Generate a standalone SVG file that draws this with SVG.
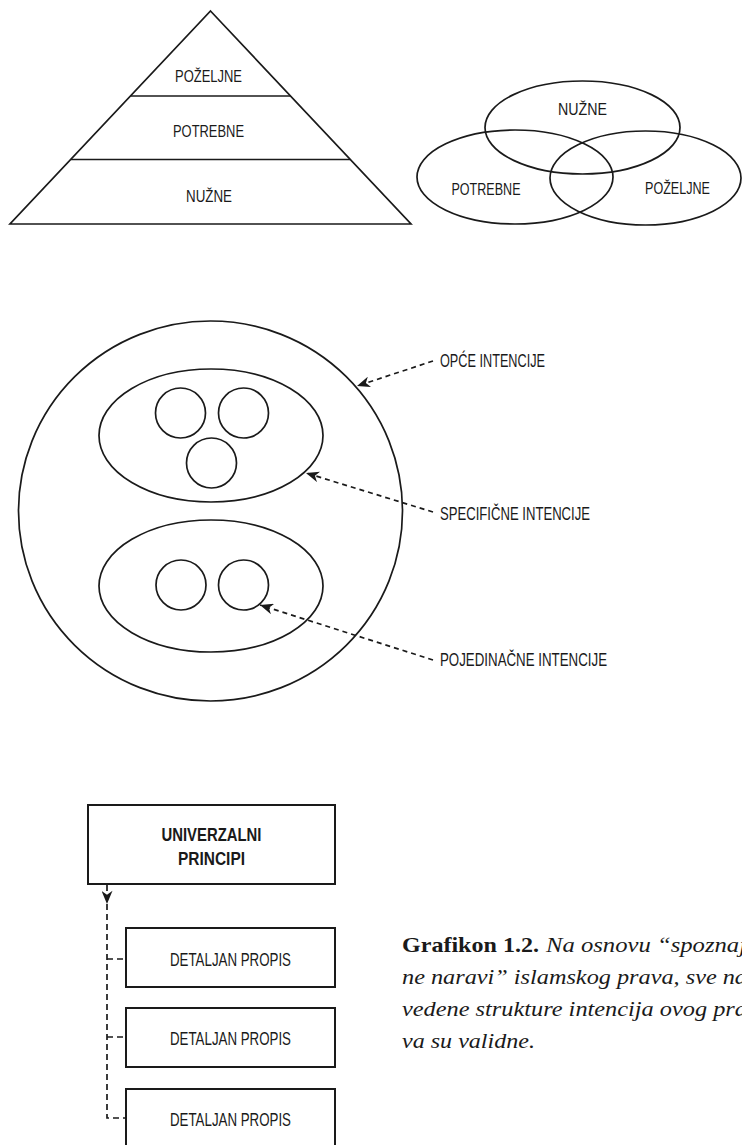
<svg xmlns="http://www.w3.org/2000/svg" width="742" height="1145" viewBox="0 0 742 1145">
<style>
.shape{fill:none;stroke:#1a1a1a;stroke-width:1.7}
.box{fill:#fff;stroke:#1a1a1a;stroke-width:2}
.lbl{font-family:"Liberation Sans Narrow","Liberation Sans",sans-serif;fill:#1a1a1a;text-anchor:middle}
.lbl2{font-family:"Liberation Sans Narrow","Liberation Sans",sans-serif;fill:#1a1a1a}
.dash{fill:none;stroke:#1a1a1a;stroke-width:1.7;stroke-dasharray:5 4}
.vdash{fill:none;stroke:#1a1a1a;stroke-width:1.7;stroke-dasharray:6 4}
.cap{font-family:"Liberation Serif",serif;fill:#1a1a1a;font-size:22px}
</style>
<defs>
<marker id="arr" viewBox="0 0 12 10" refX="12" refY="5" markerWidth="14" markerHeight="11" markerUnits="userSpaceOnUse" orient="auto">
<path d="M0,0 L12,5 L0,10 L3.5,5 Z" fill="#1a1a1a"/>
</marker>
</defs>

<g id="pyramid">
<path class="shape" d="M210.5,11 L411,224 L10,224 Z"/>
<line class="shape" x1="130.6" y1="96" x2="290.4" y2="96"/>
<line class="shape" x1="71" y1="159.5" x2="350" y2="159.5"/>
<text class="lbl" x="208.5" y="82" font-size="16" textLength="67" lengthAdjust="spacingAndGlyphs">POŽELJNE</text>
<text class="lbl" x="208.5" y="137" font-size="16" textLength="71" lengthAdjust="spacingAndGlyphs">POTREBNE</text>
<text class="lbl" x="209" y="202" font-size="16" textLength="46" lengthAdjust="spacingAndGlyphs">NUŽNE</text>
</g>

<g id="venn">
<ellipse class="shape" cx="582.5" cy="127.5" rx="97.5" ry="46.5"/>
<ellipse class="shape" cx="515" cy="177" rx="98" ry="47"/>
<ellipse class="shape" cx="645.5" cy="178" rx="95.5" ry="47"/>
<text class="lbl" x="582.5" y="115" font-size="16" textLength="49" lengthAdjust="spacingAndGlyphs">NUŽNE</text>
<text class="lbl" x="486" y="195" font-size="16" textLength="69" lengthAdjust="spacingAndGlyphs">POTREBNE</text>
<text class="lbl" x="677.5" y="194" font-size="16" textLength="65" lengthAdjust="spacingAndGlyphs">POŽELJNE</text>
</g>

<g id="opce-intencije">
<ellipse class="shape" cx="210.5" cy="511" rx="192" ry="190"/>
<text class="lbl2" x="440" y="367" font-size="18.5" textLength="105" lengthAdjust="spacingAndGlyphs">OPĆE INTENCIJE</text>
</g>
<g id="specificne-intencije-1">
<ellipse class="shape" cx="211" cy="435.5" rx="112" ry="66.5"/>
</g>
<g id="specificne-intencije-2">
<ellipse class="shape" cx="211" cy="586" rx="112" ry="66"/>
</g>
<g id="specificne-label">
<text class="lbl2" x="440" y="520" font-size="18.5" textLength="150" lengthAdjust="spacingAndGlyphs">SPECIFIČNE INTENCIJE</text>
</g>
<g id="pojedinacne-intencije">
<ellipse class="shape" cx="180.5" cy="413" rx="25" ry="25"/>
<ellipse class="shape" cx="243.5" cy="413" rx="25" ry="25"/>
<ellipse class="shape" cx="211.5" cy="463" rx="25" ry="25"/>
<ellipse class="shape" cx="181" cy="585" rx="25" ry="25"/>
<ellipse class="shape" cx="243.5" cy="585" rx="25" ry="25"/>
</g>
<g id="pojedinacne-label">
<text class="lbl2" x="440" y="666" font-size="18.5" textLength="167" lengthAdjust="spacingAndGlyphs">POJEDINAČNE INTENCIJE</text>
</g>

<g id="univerzalni-principi">
<rect class="box" x="88" y="805" width="247" height="79"/>
<text class="lbl" x="211.5" y="841" font-size="18.5" font-weight="bold" textLength="100" lengthAdjust="spacingAndGlyphs">UNIVERZALNI</text>
<text class="lbl" x="211.5" y="865" font-size="18.5" font-weight="bold" textLength="67" lengthAdjust="spacingAndGlyphs">PRINCIPI</text>
</g>
<g id="detaljan-propis-1">
<rect class="box" x="126" y="928" width="209" height="59"/>
<text class="lbl" x="230.5" y="966" font-size="19" textLength="121" lengthAdjust="spacingAndGlyphs">DETALJAN PROPIS</text>
</g>
<g id="detaljan-propis-2">
<rect class="box" x="126" y="1008" width="209" height="59"/>
<text class="lbl" x="230.5" y="1045" font-size="19" textLength="121" lengthAdjust="spacingAndGlyphs">DETALJAN PROPIS</text>
</g>
<g id="detaljan-propis-3">
<rect class="box" x="126" y="1089" width="209" height="70"/>
<text class="lbl" x="230.5" y="1126" font-size="19" textLength="121" lengthAdjust="spacingAndGlyphs">DETALJAN PROPIS</text>
</g>

<g id="connectors">
<path class="dash" d="M433,361 L357,386" marker-end="url(#arr)"/>
<path class="dash" d="M433,512 L306,473" marker-end="url(#arr)"/>
<path class="dash" d="M433,660 L260,605" marker-end="url(#arr)"/>
<path class="vdash" d="M107,885 L107,904" marker-end="url(#arr)"/>
<path class="vdash" d="M107,904 L107,1118 L126,1118"/>
<path class="vdash" d="M107,959 L126,959"/>
<path class="vdash" d="M107,1037 L126,1037"/>
</g>

<g id="caption">
<text class="cap" x="402" y="952" font-weight="bold" textLength="137" lengthAdjust="spacingAndGlyphs">Grafikon 1.2.</text>
<text class="cap" x="546" y="952" font-style="italic" textLength="200" lengthAdjust="spacingAndGlyphs">Na osnovu “spoznaj</text>
<text class="cap" x="402" y="984" font-style="italic" textLength="345" lengthAdjust="spacingAndGlyphs">ne naravi” islamskog prava, sve na</text>
<text class="cap" x="402" y="1016" font-style="italic" textLength="345" lengthAdjust="spacingAndGlyphs">vedene strukture intencija ovog pra</text>
<text class="cap" x="402" y="1048" font-style="italic" textLength="133" lengthAdjust="spacingAndGlyphs">va su validne.</text>
</g>
</svg>
